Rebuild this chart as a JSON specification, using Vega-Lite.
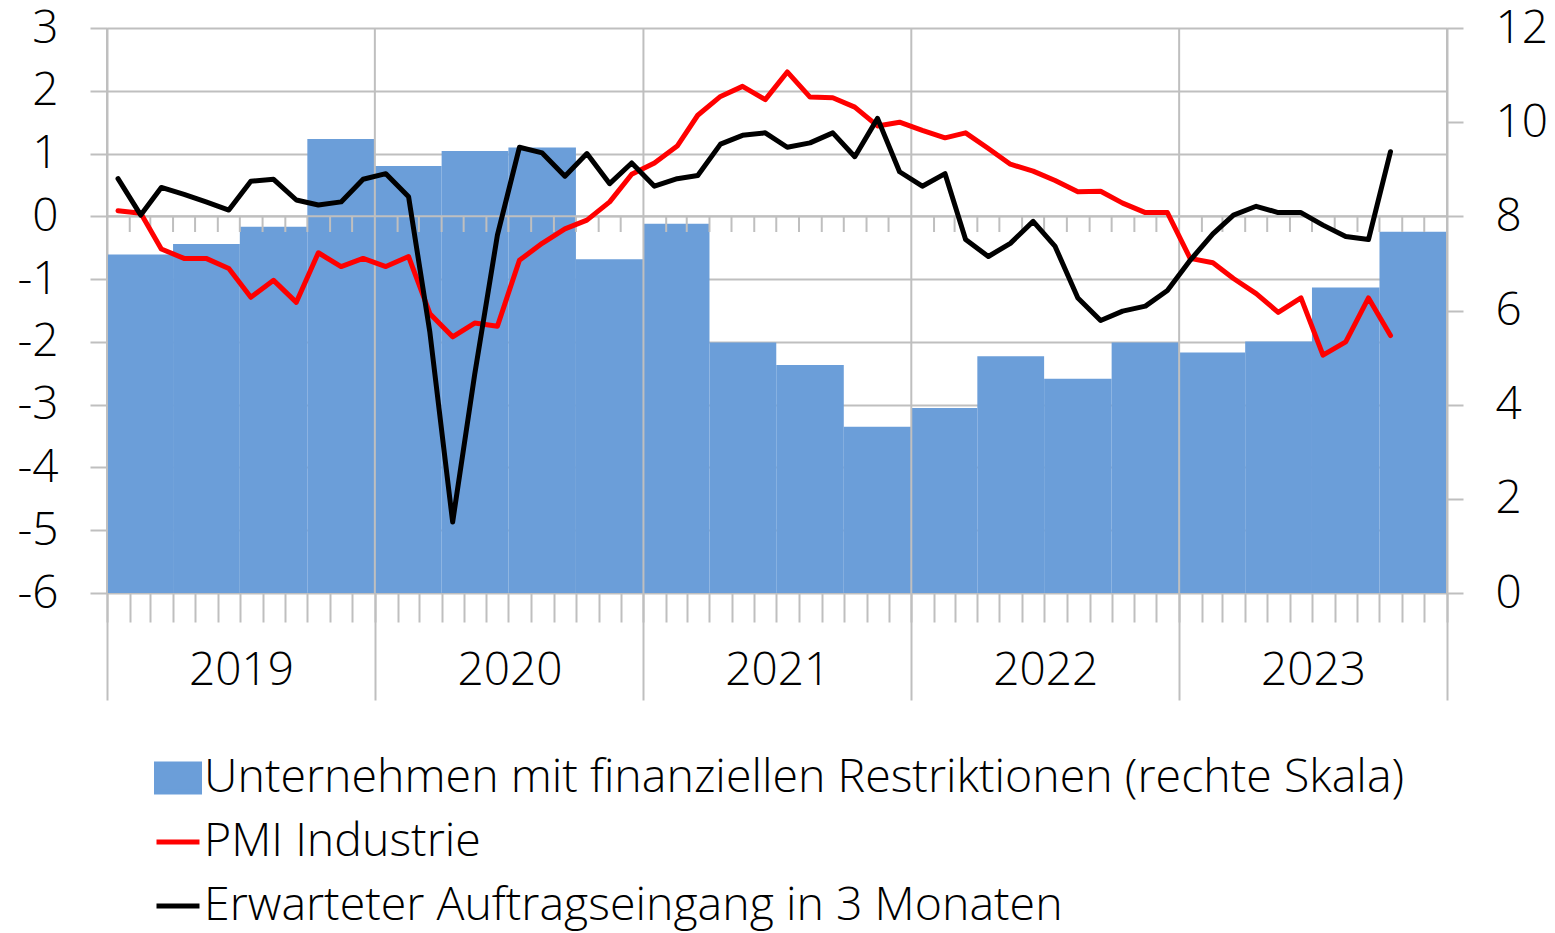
{
  "$schema": "https://vega.github.io/schema/vega-lite/v6.json",
  "width": 1340,
  "height": 565,
  "autosize": "none",
  "padding": {"left": 107, "top": 28, "right": 108, "bottom": 340},
  "background": "white",
  "config": {
    "font": "Open Sans",
    "view": {"stroke": null},
    "axis": {
      "labelFont": "Open Sans",
      "labelFontSize": 46,
      "labelFontWeight": 300,
      "labelColor": "#000000",
      "tickColor": "#BFBFBF",
      "domainColor": "#BFBFBF",
      "gridColor": "#BFBFBF",
      "tickWidth": 2,
      "domainWidth": 2,
      "gridWidth": 2,
      "title": null
    },
    "legend": {"title": null}
  },
  "datasets": {
    "bars": [
      {"start": "2019-01-01", "end": "2019-04-01", "value": 7.19},
      {"start": "2019-04-01", "end": "2019-07-01", "value": 7.41},
      {"start": "2019-07-01", "end": "2019-10-01", "value": 7.78},
      {"start": "2019-10-01", "end": "2020-01-01", "value": 9.64},
      {"start": "2020-01-01", "end": "2020-04-01", "value": 9.07},
      {"start": "2020-04-01", "end": "2020-07-01", "value": 9.39},
      {"start": "2020-07-01", "end": "2020-10-01", "value": 9.46},
      {"start": "2020-10-01", "end": "2021-01-01", "value": 7.09},
      {"start": "2021-01-01", "end": "2021-04-01", "value": 7.84},
      {"start": "2021-04-01", "end": "2021-07-01", "value": 5.32},
      {"start": "2021-07-01", "end": "2021-10-01", "value": 4.84},
      {"start": "2021-10-01", "end": "2022-01-01", "value": 3.53},
      {"start": "2022-01-01", "end": "2022-04-01", "value": 3.93},
      {"start": "2022-04-01", "end": "2022-07-01", "value": 5.03},
      {"start": "2022-07-01", "end": "2022-10-01", "value": 4.55},
      {"start": "2022-10-01", "end": "2023-01-01", "value": 5.32},
      {"start": "2023-01-01", "end": "2023-04-01", "value": 5.11},
      {"start": "2023-04-01", "end": "2023-07-01", "value": 5.34},
      {"start": "2023-07-01", "end": "2023-10-01", "value": 6.49},
      {"start": "2023-10-01", "end": "2024-01-01", "value": 7.67}
    ],
    "years": [
      {"date": "2019-01-01"}, {"date": "2020-01-01"}, {"date": "2021-01-01"},
      {"date": "2022-01-01"}, {"date": "2023-01-01"}, {"date": "2024-01-01"}
    ],
    "months": [
      {"date": "2019-02-01"}, {"date": "2019-03-01"}, {"date": "2019-04-01"}, {"date": "2019-05-01"}, {"date": "2019-06-01"}, {"date": "2019-07-01"}, {"date": "2019-08-01"}, {"date": "2019-09-01"}, {"date": "2019-10-01"}, {"date": "2019-11-01"}, {"date": "2019-12-01"},
      {"date": "2020-02-01"}, {"date": "2020-03-01"}, {"date": "2020-04-01"}, {"date": "2020-05-01"}, {"date": "2020-06-01"}, {"date": "2020-07-01"}, {"date": "2020-08-01"}, {"date": "2020-09-01"}, {"date": "2020-10-01"}, {"date": "2020-11-01"}, {"date": "2020-12-01"},
      {"date": "2021-02-01"}, {"date": "2021-03-01"}, {"date": "2021-04-01"}, {"date": "2021-05-01"}, {"date": "2021-06-01"}, {"date": "2021-07-01"}, {"date": "2021-08-01"}, {"date": "2021-09-01"}, {"date": "2021-10-01"}, {"date": "2021-11-01"}, {"date": "2021-12-01"},
      {"date": "2022-02-01"}, {"date": "2022-03-01"}, {"date": "2022-04-01"}, {"date": "2022-05-01"}, {"date": "2022-06-01"}, {"date": "2022-07-01"}, {"date": "2022-08-01"}, {"date": "2022-09-01"}, {"date": "2022-10-01"}, {"date": "2022-11-01"}, {"date": "2022-12-01"},
      {"date": "2023-02-01"}, {"date": "2023-03-01"}, {"date": "2023-04-01"}, {"date": "2023-05-01"}, {"date": "2023-06-01"}, {"date": "2023-07-01"}, {"date": "2023-08-01"}, {"date": "2023-09-01"}, {"date": "2023-10-01"}, {"date": "2023-11-01"}, {"date": "2023-12-01"}
    ],
    "lines": [
      {"date": "2019-01-16", "series": "PMI Industrie", "value": 0.09},
      {"date": "2019-02-16", "series": "PMI Industrie", "value": 0.05},
      {"date": "2019-03-16", "series": "PMI Industrie", "value": -0.52},
      {"date": "2019-04-16", "series": "PMI Industrie", "value": -0.67},
      {"date": "2019-05-16", "series": "PMI Industrie", "value": -0.67},
      {"date": "2019-06-16", "series": "PMI Industrie", "value": -0.83},
      {"date": "2019-07-16", "series": "PMI Industrie", "value": -1.29},
      {"date": "2019-08-16", "series": "PMI Industrie", "value": -1.02},
      {"date": "2019-09-16", "series": "PMI Industrie", "value": -1.37},
      {"date": "2019-10-16", "series": "PMI Industrie", "value": -0.58},
      {"date": "2019-11-16", "series": "PMI Industrie", "value": -0.80},
      {"date": "2019-12-16", "series": "PMI Industrie", "value": -0.67},
      {"date": "2020-01-16", "series": "PMI Industrie", "value": -0.80},
      {"date": "2020-02-16", "series": "PMI Industrie", "value": -0.64},
      {"date": "2020-03-16", "series": "PMI Industrie", "value": -1.55},
      {"date": "2020-04-16", "series": "PMI Industrie", "value": -1.92},
      {"date": "2020-05-16", "series": "PMI Industrie", "value": -1.70},
      {"date": "2020-06-16", "series": "PMI Industrie", "value": -1.75},
      {"date": "2020-07-16", "series": "PMI Industrie", "value": -0.70},
      {"date": "2020-08-16", "series": "PMI Industrie", "value": -0.43},
      {"date": "2020-09-16", "series": "PMI Industrie", "value": -0.20},
      {"date": "2020-10-16", "series": "PMI Industrie", "value": -0.06},
      {"date": "2020-11-16", "series": "PMI Industrie", "value": 0.23},
      {"date": "2020-12-16", "series": "PMI Industrie", "value": 0.67},
      {"date": "2021-01-16", "series": "PMI Industrie", "value": 0.85},
      {"date": "2021-02-16", "series": "PMI Industrie", "value": 1.12},
      {"date": "2021-03-16", "series": "PMI Industrie", "value": 1.61},
      {"date": "2021-04-16", "series": "PMI Industrie", "value": 1.91},
      {"date": "2021-05-16", "series": "PMI Industrie", "value": 2.07},
      {"date": "2021-06-16", "series": "PMI Industrie", "value": 1.86},
      {"date": "2021-07-16", "series": "PMI Industrie", "value": 2.30},
      {"date": "2021-08-16", "series": "PMI Industrie", "value": 1.90},
      {"date": "2021-09-16", "series": "PMI Industrie", "value": 1.89},
      {"date": "2021-10-16", "series": "PMI Industrie", "value": 1.74},
      {"date": "2021-11-16", "series": "PMI Industrie", "value": 1.44},
      {"date": "2021-12-16", "series": "PMI Industrie", "value": 1.50},
      {"date": "2022-01-16", "series": "PMI Industrie", "value": 1.37},
      {"date": "2022-02-16", "series": "PMI Industrie", "value": 1.25},
      {"date": "2022-03-16", "series": "PMI Industrie", "value": 1.33},
      {"date": "2022-04-16", "series": "PMI Industrie", "value": 1.08},
      {"date": "2022-05-16", "series": "PMI Industrie", "value": 0.83},
      {"date": "2022-06-16", "series": "PMI Industrie", "value": 0.72},
      {"date": "2022-07-16", "series": "PMI Industrie", "value": 0.57},
      {"date": "2022-08-16", "series": "PMI Industrie", "value": 0.39},
      {"date": "2022-09-16", "series": "PMI Industrie", "value": 0.40},
      {"date": "2022-10-16", "series": "PMI Industrie", "value": 0.21},
      {"date": "2022-11-16", "series": "PMI Industrie", "value": 0.06},
      {"date": "2022-12-16", "series": "PMI Industrie", "value": 0.06},
      {"date": "2023-01-16", "series": "PMI Industrie", "value": -0.67},
      {"date": "2023-02-16", "series": "PMI Industrie", "value": -0.74},
      {"date": "2023-03-16", "series": "PMI Industrie", "value": -0.99},
      {"date": "2023-04-16", "series": "PMI Industrie", "value": -1.23},
      {"date": "2023-05-16", "series": "PMI Industrie", "value": -1.53},
      {"date": "2023-06-16", "series": "PMI Industrie", "value": -1.30},
      {"date": "2023-07-16", "series": "PMI Industrie", "value": -2.21},
      {"date": "2023-08-16", "series": "PMI Industrie", "value": -2.00},
      {"date": "2023-09-16", "series": "PMI Industrie", "value": -1.30},
      {"date": "2023-10-16", "series": "PMI Industrie", "value": -1.90},
      {"date": "2019-01-16", "series": "Erwarteter Auftragseingang in 3 Monaten", "value": 0.60},
      {"date": "2019-02-16", "series": "Erwarteter Auftragseingang in 3 Monaten", "value": 0.02},
      {"date": "2019-03-16", "series": "Erwarteter Auftragseingang in 3 Monaten", "value": 0.46},
      {"date": "2019-04-16", "series": "Erwarteter Auftragseingang in 3 Monaten", "value": 0.35},
      {"date": "2019-05-16", "series": "Erwarteter Auftragseingang in 3 Monaten", "value": 0.23},
      {"date": "2019-06-16", "series": "Erwarteter Auftragseingang in 3 Monaten", "value": 0.10},
      {"date": "2019-07-16", "series": "Erwarteter Auftragseingang in 3 Monaten", "value": 0.56},
      {"date": "2019-08-16", "series": "Erwarteter Auftragseingang in 3 Monaten", "value": 0.59},
      {"date": "2019-09-16", "series": "Erwarteter Auftragseingang in 3 Monaten", "value": 0.26},
      {"date": "2019-10-16", "series": "Erwarteter Auftragseingang in 3 Monaten", "value": 0.18},
      {"date": "2019-11-16", "series": "Erwarteter Auftragseingang in 3 Monaten", "value": 0.23},
      {"date": "2019-12-16", "series": "Erwarteter Auftragseingang in 3 Monaten", "value": 0.59},
      {"date": "2020-01-16", "series": "Erwarteter Auftragseingang in 3 Monaten", "value": 0.68},
      {"date": "2020-02-16", "series": "Erwarteter Auftragseingang in 3 Monaten", "value": 0.31},
      {"date": "2020-03-16", "series": "Erwarteter Auftragseingang in 3 Monaten", "value": -1.85},
      {"date": "2020-04-16", "series": "Erwarteter Auftragseingang in 3 Monaten", "value": -4.87},
      {"date": "2020-05-16", "series": "Erwarteter Auftragseingang in 3 Monaten", "value": -2.52},
      {"date": "2020-06-16", "series": "Erwarteter Auftragseingang in 3 Monaten", "value": -0.30},
      {"date": "2020-07-16", "series": "Erwarteter Auftragseingang in 3 Monaten", "value": 1.10},
      {"date": "2020-08-16", "series": "Erwarteter Auftragseingang in 3 Monaten", "value": 1.01},
      {"date": "2020-09-16", "series": "Erwarteter Auftragseingang in 3 Monaten", "value": 0.64},
      {"date": "2020-10-16", "series": "Erwarteter Auftragseingang in 3 Monaten", "value": 1.00},
      {"date": "2020-11-16", "series": "Erwarteter Auftragseingang in 3 Monaten", "value": 0.52},
      {"date": "2020-12-16", "series": "Erwarteter Auftragseingang in 3 Monaten", "value": 0.85},
      {"date": "2021-01-16", "series": "Erwarteter Auftragseingang in 3 Monaten", "value": 0.48},
      {"date": "2021-02-16", "series": "Erwarteter Auftragseingang in 3 Monaten", "value": 0.60},
      {"date": "2021-03-16", "series": "Erwarteter Auftragseingang in 3 Monaten", "value": 0.65},
      {"date": "2021-04-16", "series": "Erwarteter Auftragseingang in 3 Monaten", "value": 1.15},
      {"date": "2021-05-16", "series": "Erwarteter Auftragseingang in 3 Monaten", "value": 1.29},
      {"date": "2021-06-16", "series": "Erwarteter Auftragseingang in 3 Monaten", "value": 1.33},
      {"date": "2021-07-16", "series": "Erwarteter Auftragseingang in 3 Monaten", "value": 1.10},
      {"date": "2021-08-16", "series": "Erwarteter Auftragseingang in 3 Monaten", "value": 1.17},
      {"date": "2021-09-16", "series": "Erwarteter Auftragseingang in 3 Monaten", "value": 1.33},
      {"date": "2021-10-16", "series": "Erwarteter Auftragseingang in 3 Monaten", "value": 0.95},
      {"date": "2021-11-16", "series": "Erwarteter Auftragseingang in 3 Monaten", "value": 1.56},
      {"date": "2021-12-16", "series": "Erwarteter Auftragseingang in 3 Monaten", "value": 0.71},
      {"date": "2022-01-16", "series": "Erwarteter Auftragseingang in 3 Monaten", "value": 0.48},
      {"date": "2022-02-16", "series": "Erwarteter Auftragseingang in 3 Monaten", "value": 0.68},
      {"date": "2022-03-16", "series": "Erwarteter Auftragseingang in 3 Monaten", "value": -0.37},
      {"date": "2022-04-16", "series": "Erwarteter Auftragseingang in 3 Monaten", "value": -0.64},
      {"date": "2022-05-16", "series": "Erwarteter Auftragseingang in 3 Monaten", "value": -0.43},
      {"date": "2022-06-16", "series": "Erwarteter Auftragseingang in 3 Monaten", "value": -0.08},
      {"date": "2022-07-16", "series": "Erwarteter Auftragseingang in 3 Monaten", "value": -0.48},
      {"date": "2022-08-16", "series": "Erwarteter Auftragseingang in 3 Monaten", "value": -1.30},
      {"date": "2022-09-16", "series": "Erwarteter Auftragseingang in 3 Monaten", "value": -1.66},
      {"date": "2022-10-16", "series": "Erwarteter Auftragseingang in 3 Monaten", "value": -1.51},
      {"date": "2022-11-16", "series": "Erwarteter Auftragseingang in 3 Monaten", "value": -1.43},
      {"date": "2022-12-16", "series": "Erwarteter Auftragseingang in 3 Monaten", "value": -1.18},
      {"date": "2023-01-16", "series": "Erwarteter Auftragseingang in 3 Monaten", "value": -0.70},
      {"date": "2023-02-16", "series": "Erwarteter Auftragseingang in 3 Monaten", "value": -0.28},
      {"date": "2023-03-16", "series": "Erwarteter Auftragseingang in 3 Monaten", "value": 0.02},
      {"date": "2023-04-16", "series": "Erwarteter Auftragseingang in 3 Monaten", "value": 0.16},
      {"date": "2023-05-16", "series": "Erwarteter Auftragseingang in 3 Monaten", "value": 0.06},
      {"date": "2023-06-16", "series": "Erwarteter Auftragseingang in 3 Monaten", "value": 0.06},
      {"date": "2023-07-16", "series": "Erwarteter Auftragseingang in 3 Monaten", "value": -0.14},
      {"date": "2023-08-16", "series": "Erwarteter Auftragseingang in 3 Monaten", "value": -0.32},
      {"date": "2023-09-16", "series": "Erwarteter Auftragseingang in 3 Monaten", "value": -0.37},
      {"date": "2023-10-16", "series": "Erwarteter Auftragseingang in 3 Monaten", "value": 1.03}
    ]
  },
  "layer": [
    {
      "data": {"name": "bars"},
      "mark": {"type": "rect"},
      "encoding": {
        "x": {
          "field": "start", "type": "temporal",
          "scale": {"type": "utc", "domain": [{"year": 2019, "month": 1, "date": 1, "utc": true}, {"year": 2024, "month": 1, "date": 1, "utc": true}]},
          "axis": {"orient": "bottom", "tickCount": {"interval": "month", "step": 1}, "labels": false, "tickSize": 29, "domain": false, "grid": false}
        },
        "x2": {"field": "end"},
        "y": {
          "field": "value", "type": "quantitative",
          "scale": {"domain": [0, 12], "nice": false},
          "axis": {"orient": "right", "values": [0, 2, 4, 6, 8, 10, 12], "tickSize": 16, "labelPadding": 32, "grid": false, "domain": true}
        },
        "y2": {"datum": 0},
        "color": {
          "datum": "Unternehmen mit finanziellen Restriktionen (rechte Skala)",
          "type": "nominal",
          "scale": {
            "domain": ["Unternehmen mit finanziellen Restriktionen (rechte Skala)", "PMI Industrie", "Erwarteter Auftragseingang in 3 Monaten"],
            "range": ["#6B9ED9", "#FF0000", "#000000"]
          },
          "legend": {
            "orient": "none", "legendX": 47, "legendY": 726, "direction": "vertical", "title": null,
            "labelFont": "Open Sans", "labelFontSize": 46.5, "labelFontWeight": 300, "labelColor": "#000000", "labelLimit": 3000,
            "symbolSize": 1849, "rowPadding": 16, "labelOffset": 2, "padding": 0,
            "symbolType": "M-1,-0.65H1V0.65H-1Z",
            "encode": {
              "symbols": {
                "update": {
                  "shape": {"signal": "datum.value === 'PMI Industrie' || datum.value === 'Erwarteter Auftragseingang in 3 Monaten' ? 'M-1,0H1' : 'M-1,-0.65H1V0.65H-1Z'"},
                  "fill": {"signal": "datum.value === 'PMI Industrie' || datum.value === 'Erwarteter Auftragseingang in 3 Monaten' ? 'transparent' : '#6B9ED9'"},
                  "stroke": {"signal": "datum.value === 'PMI Industrie' ? '#FF0000' : (datum.value === 'Erwarteter Auftragseingang in 3 Monaten' ? '#000000' : 'transparent')"},
                  "strokeWidth": {"value": 5},
                  "opacity": {"value": 1},
                  "fillOpacity": {"value": 1},
                  "strokeOpacity": {"value": 1}
                }
              }
            }
          }
        }
      }
    },
    {
      "data": {"name": "years"},
      "mark": {"type": "rule", "color": "#BFBFBF", "strokeWidth": 2},
      "encoding": {
        "x": {
          "field": "date", "type": "temporal", "scale": {"type": "utc"},
          "axis": {"orient": "bottom", "tickCount": {"interval": "year", "step": 1}, "labels": false, "tickSize": 107, "domain": false, "grid": false}
        }
      }
    },
    {
      "data": {"values": [{}]},
      "mark": {"type": "rule", "color": "#BFBFBF", "strokeWidth": 2},
      "encoding": {
        "y": {"datum": 0, "type": "quantitative", "scale": {"domain": [-6, 3], "nice": false}, "axis": null}
      }
    },
    {
      "data": {"name": "months"},
      "mark": {"type": "rule", "color": "#BFBFBF", "strokeWidth": 2},
      "encoding": {
        "x": {"field": "date", "type": "temporal", "scale": {"type": "utc"}, "axis": null},
        "y": {"datum": 0, "type": "quantitative", "scale": {"domain": [-6, 3], "nice": false}, "axis": null},
        "y2": {"datum": -0.25}
      }
    },
    {
      "data": {"name": "lines"},
      "mark": {"type": "line", "strokeWidth": 5, "strokeJoin": "round", "strokeCap": "round"},
      "encoding": {
        "x": {
          "field": "date", "type": "temporal", "scale": {"type": "utc"},
          "axis": {
            "orient": "bottom",
            "values": [
              {"year": 2019, "month": 7, "date": 2, "hours": 12, "utc": true},
              {"year": 2020, "month": 7, "date": 2, "hours": 12, "utc": true},
              {"year": 2021, "month": 7, "date": 2, "hours": 12, "utc": true},
              {"year": 2022, "month": 7, "date": 2, "hours": 12, "utc": true},
              {"year": 2023, "month": 7, "date": 2, "hours": 12, "utc": true}
            ],
            "format": "%Y", "tickSize": 0, "domain": false, "grid": false, "labelPadding": 55, "labelOverlap": false, "labelFlush": false
          }
        },
        "y": {
          "field": "value", "type": "quantitative",
          "scale": {"domain": [-6, 3], "nice": false},
          "axis": {"orient": "left", "values": [-6, -5, -4, -3, -2, -1, 0, 1, 2, 3], "grid": true, "tickSize": 17, "labelPadding": 32, "labelExpr": "'' + datum.value", "domain": true}
        },
        "color": {"field": "series", "type": "nominal", "legend": {"title": null}}
      }
    }
  ],
  "resolve": {
    "scale": {"y": "independent"},
    "axis": {"x": "independent", "y": "independent"}
  }
}
